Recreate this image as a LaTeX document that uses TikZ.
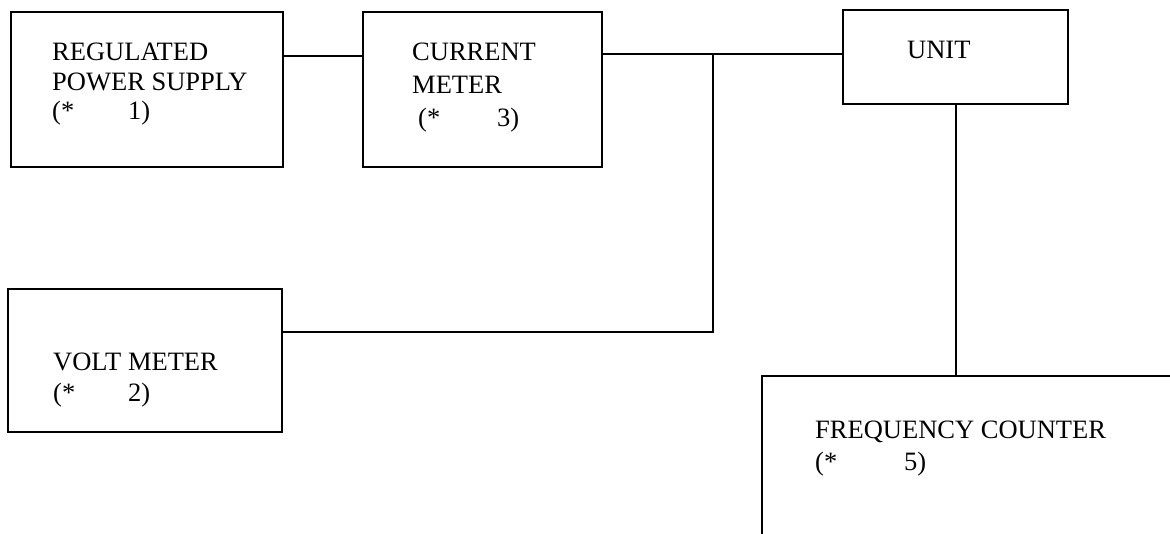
\documentclass[tikz,border=0pt]{standalone}
\usepackage{fontspec}
\setmainfont{Liberation Serif}
\begin{document}
\begin{tikzpicture}[x=1pt,y=-1pt,
  box/.style={draw, line width=2.4pt, inner sep=0pt, anchor=north west},
  lbl/.style={anchor=base west, inner sep=0pt, font=\fontsize{26.5}{31}\selectfont},
  wire/.style={line width=2pt}]
\useasboundingbox (0,0) rectangle (1170,533);
\begin{scope}
\clip (0,0) rectangle (1170,533);
\node[box, minimum width=272pt, minimum height=155pt] (ps) at (10,11) {};
\node[box, minimum width=239pt, minimum height=155pt] (cm) at (362,11) {};
\node[box, minimum width=225pt, minimum height=94pt] (unit) at (842,9) {};
\node[box, minimum width=274pt, minimum height=143pt] (vm) at (7,288) {};
\node[box, minimum width=460pt, minimum height=200pt] (fc) at (761,375) {};
\end{scope}
% labels
\node[lbl] (ps1) at (52,60) {REGULATED};
\node[lbl] (ps2) at (52,90) {POWER SUPPLY};
\node[lbl] (ps3) at (52,119) {(*};
\node[lbl] (ps4) at (128,119) {1)};
\node[lbl] (cm1) at (412,60) {CURRENT};
\node[lbl] (cm2) at (412,93) {METER};
\node[lbl] (cm3) at (418,126) {(*};
\node[lbl] (cm4) at (497,126) {3)};
\node[lbl] (un1) at (907,58) {UNIT};
\node[lbl] (vm1) at (53,370) {VOLT METER};
\node[lbl] (vm2) at (53,401) {(*};
\node[lbl] (vm3) at (128,401) {2)};
\node[lbl] (fc1) at (815,438) {FREQUENCY COUNTER};
\node[lbl] (fc2) at (815,470) {(*};
\node[lbl] (fc3) at (904,470) {5)};
% connectors
\coordinate (a) at (0,56);
\coordinate (j) at (713,54);
\coordinate (k) at (713,332);
\draw[wire] (ps.east |- a) -- (cm.west |- a);
\draw[wire] (cm.east |- j) -- (unit.west |- j);
\draw[wire] (vm.east |- k) -- (k) -- (j);
\draw[wire] (unit.south) -- (unit.south |- fc.north);
\end{tikzpicture}
\end{document}
